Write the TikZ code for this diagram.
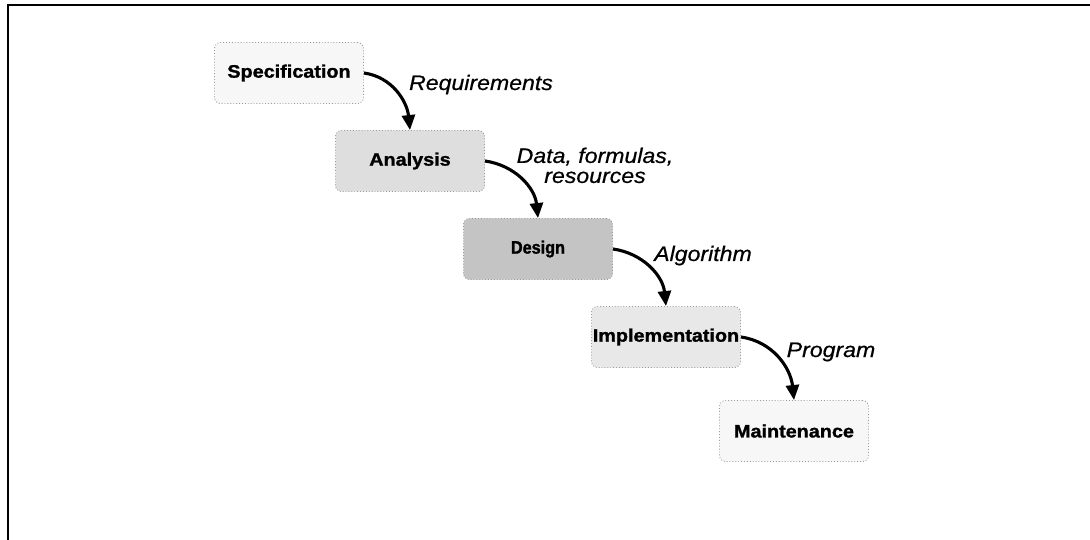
\documentclass[tikz,border=0pt]{standalone}
\usepackage{fontspec}
\setmainfont{Liberation Sans}
\newfontfamily\stagefont{Liberation Sans Bold}[FakeStretch=1.1, FakeBold=1.4]
\newfontfamily\narrowstagefont{Liberation Sans Bold}[FakeStretch=0.9, FakeBold=1.4]
\newfontfamily\flowfont{Liberation Sans Italic}[FakeStretch=1.1, FakeBold=0.6]
\usetikzlibrary{arrows.meta}

% fills of the five stages
\definecolor{specfill}{gray}{0.97}
\definecolor{anafill}{gray}{0.87}
\definecolor{desfill}{gray}{0.77}
\definecolor{impfill}{gray}{0.91}
\definecolor{maintfill}{gray}{0.97}

\begin{document}
\begin{tikzpicture}[x=1pt,y=-1pt,
  stage/.style={rectangle, rounded corners=6pt, minimum width=149pt,
    minimum height=61pt, inner sep=0pt, draw=black!40, dotted, line width=0.9pt,
    font=\stagefont\fontsize{18}{21}\selectfont},
  flow/.style={solid, line width=3.1pt, -{Triangle[length=15pt,width=13pt]}},
  flowlabel/.style={inner sep=0pt, align=center,
    font=\flowfont\fontsize{21}{20}\selectfont}]

\useasboundingbox (0,0) rectangle (1090,540);

% page frame: top and left rules
\draw[line width=2pt, black] (1090,5.5) -- (7.5,5.5) -- (7.5,540);

% stages
\node[stage, fill=specfill]  (spec)  at (289,73)  {Specification};
\node[stage, fill=anafill]   (ana)   at (410,161) {Analysis};
\node[stage, fill=desfill, font=\narrowstagefont\fontsize{18}{21}\selectfont]
                             (des)   at (538,249) {Design};
\node[stage, fill=impfill]   (imp)   at (666,337) {Implementation};
\node[stage, fill=maintfill] (maint) at (794,431) {Maintenance};

% hand-offs between stages
\draw[flow] (spec.east) to[out=-8, in=96] (ana.north);
\draw[flow] (ana.east)  to[out=-8, in=96] (des.north);
\draw[flow] (des.east)  to[out=-8, in=96] (imp.north);
\draw[flow] (imp.east)  to[out=-8, in=96] (maint.north);

% what each hand-off carries
\node[flowlabel, anchor=base]  (lreq)  at (481,90)    {Requirements};
\node[flowlabel, anchor=north] (ldata) at (595,147.5) {Data, formulas,\\resources};
\node[flowlabel, anchor=base]  (lalg)  at (703,261)   {Algorithm};
\node[flowlabel, anchor=base]  (lprog) at (831,357)   {Program};
\end{tikzpicture}
\end{document}
